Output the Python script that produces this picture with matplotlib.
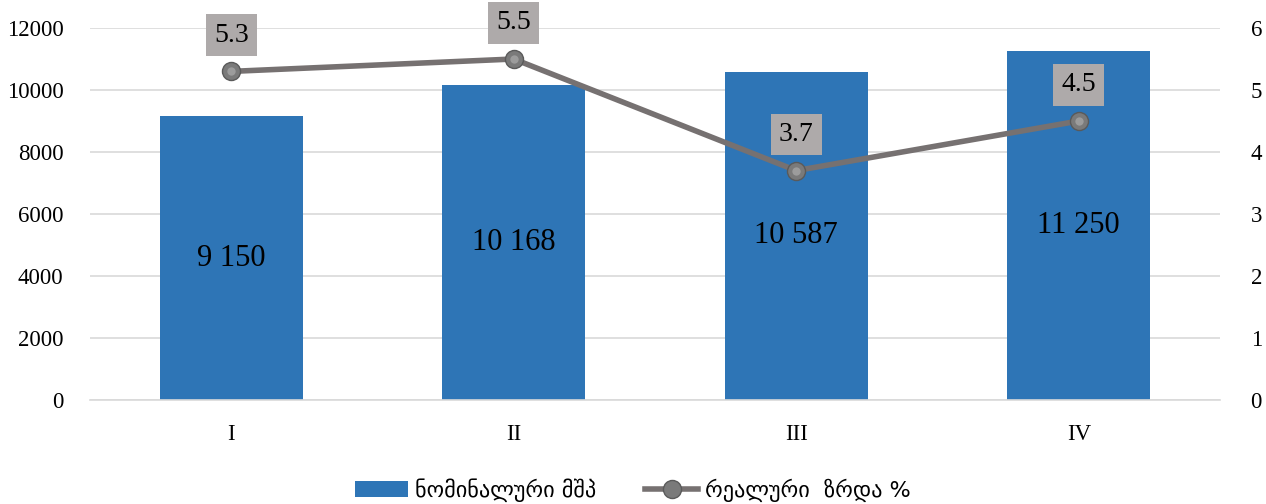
import matplotlib.pyplot as plt
from matplotlib.lines import Line2D
import numpy as np

quarters = ['I', 'II', 'III', 'IV']
nominal_gdp = [9150, 10168, 10587, 11250]
nominal_labels = ['9 150', '10 168', '10 587', '11 250']
real_growth = [5.3, 5.5, 3.7, 4.5]

serif = ['Liberation Serif', 'DejaVu Serif']
geo = ['DejaVu Sans']

fig = plt.figure(figsize=(12.66, 5.04), dpi=100)
ax = fig.add_axes([90/1266, 104/504, 1130/1266, 372/504])
ax2 = ax.twinx()

x = np.arange(len(quarters))
bars = ax.bar(x, nominal_gdp, width=0.506, color='#2E75B6', zorder=2)
ax.set_xlim(-0.5, len(quarters) - 0.5)
ax.set_ylim(0, 12000)
ax.set_yticks(np.arange(0, 12001, 2000))
ax.grid(axis='y', color='#D9D9D9', linewidth=1.2, zorder=0)
ax.set_axisbelow(True)
ax.set_xticks(x)
ax.set_xticklabels(quarters)

for b, lab in zip(bars, nominal_labels):
    ax.text(b.get_x() + b.get_width()/2, b.get_height()/2, lab,
            ha='center', va='center', fontsize=22, family=serif, zorder=3)

ax2.plot(x, real_growth, color='#767171', linewidth=4, zorder=3)
ax2.plot(x, real_growth, linestyle='none', marker='o', markersize=13,
         markerfacecolor='#7A7A7A', markeredgecolor='#5A5A5A',
         markeredgewidth=1, zorder=4)
ax2.plot(x, real_growth, linestyle='none', marker='o', markersize=6,
         markerfacecolor='#9C9C9C', markeredgewidth=0, zorder=5)
ax2.set_ylim(0, 6)
ax2.set_yticks(range(0, 7))

for xi, v in zip(x, real_growth):
    ax2.annotate(f'{v:.1f}', (xi, v), xytext=(0, 26), textcoords='offset points',
                 ha='center', va='center', fontsize=20, family=serif,
                 bbox=dict(boxstyle='square,pad=0.3', facecolor='#AEAAAA',
                           edgecolor='none'), zorder=6)

for a in (ax, ax2):
    for s in a.spines.values():
        s.set_visible(False)
    a.tick_params(length=0, labelsize=16.5)
    for t in a.get_xticklabels() + a.get_yticklabels():
        t.set_family(serif)
ax.spines['bottom'].set_visible(True)
ax.spines['bottom'].set_color('#D9D9D9')
ax.spines['bottom'].set_linewidth(1.2)
ax.tick_params(axis='y', pad=19)
ax.tick_params(axis='x', pad=17)
ax2.tick_params(axis='y', pad=22)

line_handle = Line2D([], [], color='#767171', linewidth=4, marker='o',
                     markersize=13, markerfacecolor='#7A7A7A',
                     markeredgecolor='#5A5A5A')
fig.legend([bars, line_handle], ['ნომინალური მშპ', 'რეალური  ზრდა %'],
           loc='lower center', bbox_to_anchor=(0.5, -0.035), ncol=2,
           frameon=False, prop={'family': geo, 'size': 16},
           handlelength=2.4, handletextpad=0.3, columnspacing=2.2)

fig.savefig('out.png', dpi=100)
